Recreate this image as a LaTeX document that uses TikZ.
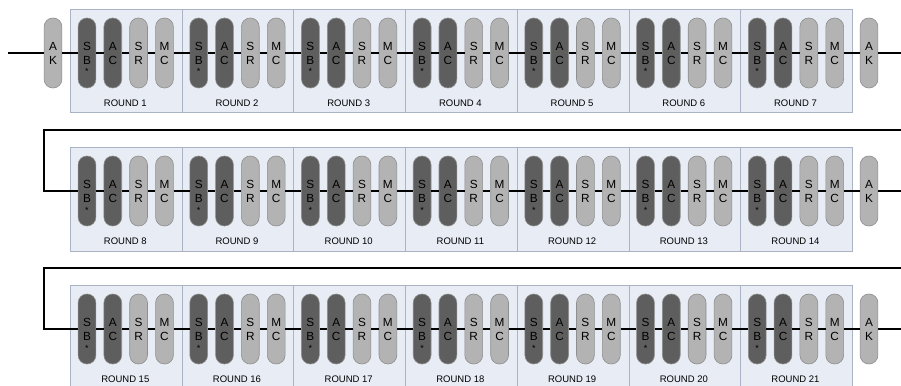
\documentclass[tikz,border=0pt]{standalone}
\usepackage{fontspec}
\setmainfont{Liberation Sans}
\definecolor{darkpill}{HTML}{5E5E5E}
\definecolor{lightpill}{HTML}{B3B3B3}
\definecolor{pillborder}{HTML}{8E8E8E}
\definecolor{boxfill}{HTML}{E7ECF5}
\definecolor{boxborder}{HTML}{A9B3C4}
\tikzset{
  pill/.style={rectangle, rounded corners=8.8pt, minimum width=17.8pt, minimum height=70pt,
    inner sep=0pt, draw=pillborder, line width=0.6pt, align=center,
    font=\fontsize{11.8}{14}\selectfont},
  darkp/.style={pill, fill=darkpill},
  lightp/.style={pill, fill=lightpill},
  roundbox/.style={rectangle, draw=boxborder, fill=boxfill, minimum width=111.7pt,
    minimum height=103.5pt, inner sep=0pt, line width=0.8pt},
  roundlabel/.style={font=\fontsize{9.5}{11}\selectfont, inner sep=0pt},
  starlabel/.style={font=\fontsize{9}{10}\selectfont, inner sep=0pt, anchor=base},
  wire/.style={line width=1.3pt, black},
}
\begin{document}
\begin{tikzpicture}[x=1pt, y=-1pt]
\clip (0,0) rectangle (901,385);
\fill[white] (0,0) rectangle (901,385);
\foreach \n in {1,...,21} {
  \pgfmathtruncatemacro\r{int((\n-1)/7)}
  \pgfmathtruncatemacro\k{mod(\n-1,7)}
  \pgfmathsetmacro\xo{70+111.7*\k}
  \pgfmathsetmacro\yt{9+138*\r}
  \pgfmathsetmacro\yc{\yt+44}
  \node[roundbox, anchor=north west] (box\n) at (\xo,\yt) {};
  \node[roundlabel] (lab\n) at (\xo+55.3,\yt+94) {ROUND \n};
  \node[darkp] (sb\n) at (\xo+17,\yc) {S\\B};
  \node[starlabel] (st\n) at (\xo+17,\yc+22) {*};
  \node[darkp] (ac\n) at (\xo+42.8,\yc) {A\\C};
  \node[lightp] (sr\n) at (\xo+68.6,\yc) {S\\R};
  \node[lightp] (mc\n) at (\xo+94.5,\yc) {M\\C};
  \draw[wire] (sb\n) -- (ac\n) -- (sr\n) -- (mc\n);
}
\foreach \n in {1,...,6,8,9,10,11,12,13,15,16,17,18,19,20} {
  \pgfmathtruncatemacro\m{\n+1}
  \draw[wire] (mc\n) -- (sb\m);
}
% row ends
\node[lightp] (ak0) at (53,53) {A\\K};
\node[lightp] (ak1) at (869,53) {A\\K};
\node[lightp] (ak2) at (869,191) {A\\K};
\node[lightp] (ak3) at (869,329) {A\\K};
\coordinate (in0) at (8,53);
\coordinate (out1) at (901,53);
\coordinate (out2) at (901,191);
\coordinate (out3) at (901,329);
\coordinate (ret2r) at (901,130);
\coordinate (ret2l) at (44,130);
\coordinate (ret3r) at (901,268);
\coordinate (ret3l) at (44,268);
\draw[wire] (in0) -- (ak0) -- (sb1);
\draw[wire] (mc7) -- (ak1) -- (out1);
\draw[wire] (ret2r) -- (ret2l) |- (sb8);
\draw[wire] (mc14) -- (ak2) -- (out2);
\draw[wire] (ret3r) -- (ret3l) |- (sb15);
\draw[wire] (mc21) -- (ak3) -- (out3);
\end{tikzpicture}
\end{document}
